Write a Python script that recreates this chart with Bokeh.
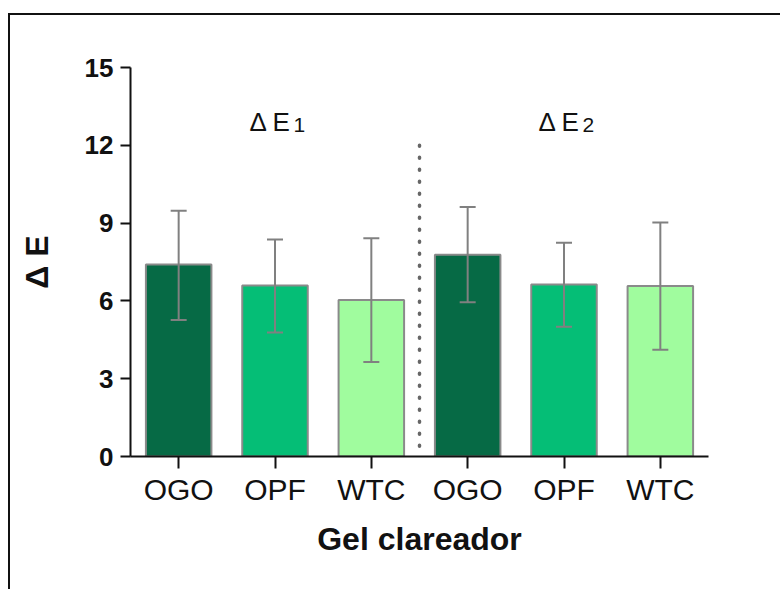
from bokeh.plotting import figure
from bokeh.models import ColumnDataSource, FixedTicker, Whisker, Range1d
from bokeh.embed import file_html
from bokeh.resources import INLINE
from bokeh.core.properties import value

# ---- data ----
categories = ["OGO", "OPF", "WTC", "OGO", "OPF", "WTC"]
groups = ["ΔE1", "ΔE1", "ΔE1", "ΔE2", "ΔE2", "ΔE2"]
means = [7.40, 6.59, 6.03, 7.78, 6.63, 6.57]
upper = [9.48, 8.37, 8.42, 9.62, 8.24, 9.02]
lower = [5.26, 4.78, 3.64, 5.95, 5.00, 4.12]
colors = ["#066a45", "#05be76", "#a0fc9e", "#066a45", "#05be76", "#a0fc9e"]
y_ticks = [0, 3, 6, 9, 12, 15]

xs = [i + 0.5 for i in range(len(categories))]
src = ColumnDataSource(dict(x=xs, top=means, upper=upper, lower=lower, color=colors))

FONT = "Liberation Sans"

p = figure(width=772, height=576, output_backend="svg", toolbar_location=None,
           x_range=Range1d(0, 6), y_range=Range1d(0, 15),
           min_border_left=120, min_border_right=74, min_border_top=52, min_border_bottom=135)
p.styles = {"border-left": "2px solid #111", "border-top": "2px solid #111",
            "margin-top": "13px", "margin-left": "8px", "box-sizing": "border-box"}
p.outline_line_color = None
p.grid.visible = False
p.background_fill_color = "white"
p.border_fill_color = "white"

p.vbar(x="x", top="top", bottom=0, width=0.68, source=src, fill_color="color",
       line_color="#8a8a8a", line_width=2)

w = Whisker(base="x", upper="upper", lower="lower", source=src, line_color="#808080",
            line_width=2, level="overlay")
w.upper_head.size = 16
w.lower_head.size = 16
w.upper_head.line_color = "#808080"
w.lower_head.line_color = "#808080"
w.upper_head.line_width = 2
w.lower_head.line_width = 2
p.add_layout(w)

# dotted separator between groups (drawn top-down so the first dot sits at 12)
p.segment(x0=[3], y0=[12], x1=[3], y1=[0], line_color="#666666", line_width=3.5,
          line_dash="1 11", line_cap="round")

# group labels
for gx, sub in [(1.5, "1"), (4.5, "2")]:
    p.text(x=[gx + 0.17], y=[12.9], text=["Δ E"], text_font=value(FONT), text_font_size="26px",
           text_align="right", text_baseline="alphabetic", text_color="#111")
    p.text(x=[gx + 0.17], y=[12.9], text=[sub], text_font=value(FONT), text_font_size="21px",
           text_align="left", text_baseline="alphabetic", text_color="#111", y_offset=3, x_offset=2)

# axes
p.yaxis.ticker = FixedTicker(ticks=y_ticks)
p.yaxis.axis_line_width = 2
p.yaxis.axis_line_color = "#111"
p.yaxis.major_tick_line_width = 2
p.yaxis.major_tick_line_color = "#111"
p.yaxis.major_tick_out = 10
p.yaxis.major_tick_in = 0
p.yaxis.minor_tick_line_color = None
p.yaxis.major_label_text_font = FONT
p.yaxis.major_label_text_font_size = "26px"
p.yaxis.major_label_text_font_style = "bold"
p.yaxis.major_label_text_color = "#111"
p.yaxis.major_label_standoff = 7
p.yaxis.axis_label = "Δ E"
p.yaxis.axis_label_text_font = FONT
p.yaxis.axis_label_text_font_size = "32px"
p.yaxis.axis_label_text_font_style = "bold"
p.yaxis.axis_label_text_color = "#111"
p.yaxis.axis_label_standoff = 27

p.xaxis.ticker = FixedTicker(ticks=xs)
p.xaxis.major_label_overrides = {x: c for x, c in zip(xs, categories)}
p.xaxis.axis_line_width = 2
p.xaxis.axis_line_color = "#111"
p.xaxis.major_tick_line_width = 2
p.xaxis.major_tick_line_color = "#111"
p.xaxis.major_tick_out = 12
p.xaxis.major_tick_in = 0
p.xaxis.minor_tick_line_color = None
p.xaxis.major_label_text_font = FONT
p.xaxis.major_label_text_font_size = "30px"
p.xaxis.major_label_text_color = "#111"
p.xaxis.major_label_standoff = 4
p.xaxis.axis_label = "Gel clareador"
p.xaxis.axis_label_text_font = FONT
p.xaxis.axis_label_text_font_size = "32px"
p.xaxis.axis_label_text_font_style = "bold"
p.xaxis.axis_label_text_color = "#111"
p.xaxis.axis_label_standoff = 12

open("out.html", "w").write(file_html(p, INLINE))
